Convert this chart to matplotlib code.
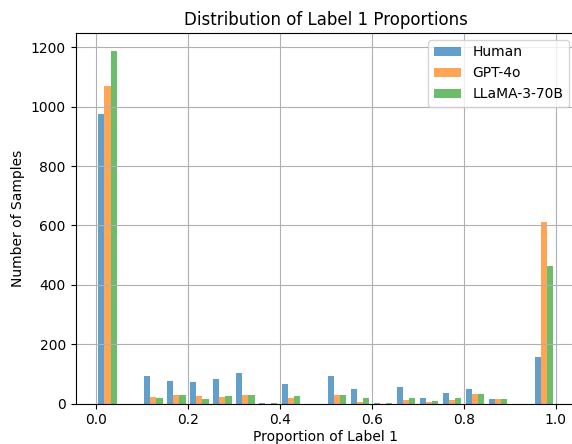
import numpy as np
import matplotlib
matplotlib.use("Agg")
import matplotlib.pyplot as plt

bin_edges = np.linspace(0, 1, 21)
bin_centers = (bin_edges[:-1] + bin_edges[1:]) / 2

labels = ["Human", "GPT-4o", "LLaMA-3-70B"]
colors = ["tab:blue", "tab:orange", "tab:green"]

# counts per bin (20 bins of width 0.05)
human = [976, 0, 94, 76, 73, 83, 103, 3, 66, 0, 94, 49, 2, 56, 18, 36, 49, 15, 0, 157]
gpt4o = [1071, 0, 22, 30, 25, 22, 30, 0, 18, 0, 30, 6, 0, 11, 6, 11, 33, 15, 0, 613]
llama = [1189, 0, 18, 30, 15, 25, 30, 2, 25, 0, 30, 18, 2, 18, 8, 18, 33, 15, 0, 465]

fig = plt.figure(figsize=(5.72, 4.44), dpi=100)
ax = fig.add_axes([0.132, 0.091, 0.875, 0.835])

ax.hist([bin_centers] * 3, bins=bin_edges, weights=[human, gpt4o, llama],
        label=labels, color=colors, alpha=0.7)

ax.set_title("Distribution of Label 1 Proportions")
ax.set_xlabel("Proportion of Label 1", labelpad=2)
ax.set_ylabel("Number of Samples")
ax.grid(True)
ax.legend(loc="upper right")

fig.savefig("out.png", dpi=100)
